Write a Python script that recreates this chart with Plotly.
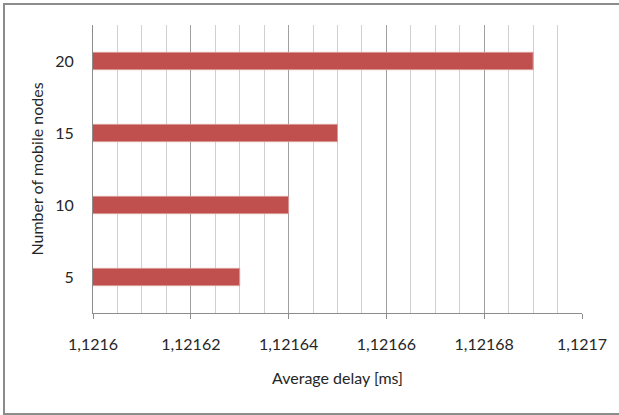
import plotly.graph_objects as go

nodes = ["5", "10", "15", "20"]
delay = [1.12163, 1.12164, 1.12165, 1.12169]
x_ticks = [1.1216, 1.12162, 1.12164, 1.12166, 1.12168, 1.1217]
x_title = "Average delay [ms]"
y_title = "Number of mobile nodes"

FONT = "Lato"

fig = go.Figure(
    go.Bar(
        x=delay,
        y=nodes,
        orientation="h",
        width=0.24,
        marker=dict(color="#C0504D", line=dict(color="#DA9A98", width=1)),
    )
)

fig.update_layout(
    width=619,
    height=415,
    margin=dict(l=93, r=37, t=25, b=102),
    paper_bgcolor="white",
    plot_bgcolor="white",
    separators=",.",
    showlegend=False,
    font=dict(family=FONT, size=16, color="#262626"),
    shapes=[
        dict(
            type="rect", xref="paper", yref="paper",
            x0=-0.182, x1=1.08, y0=-0.351, y1=1.073,
            line=dict(color="#8C8C8C", width=2), layer="below",
        )
    ],
)

fig.update_xaxes(
    range=[x_ticks[0], x_ticks[-1]],
    tickvals=x_ticks,
    tickformat=".6~g",
    showgrid=True,
    gridcolor="#A0A0A0",
    gridwidth=1,
    minor=dict(dtick=0.000005, showgrid=True, gridcolor="#D0D0D0", gridwidth=1),
    showline=True,
    linecolor="#8C8C8C",
    ticks="outside",
    ticklen=5,
    tickcolor="#8C8C8C",
    ticklabelstandoff=12,
    zeroline=False,
    title=dict(text=x_title, standoff=20, font=dict(size=16)),
)

fig.update_yaxes(
    type="category",
    categoryorder="array",
    categoryarray=nodes,
    showgrid=False,
    showline=True,
    linecolor="#8C8C8C",
    ticks="",
    ticklabelstandoff=15,
    title=dict(text=y_title, standoff=7, font=dict(size=16)),
)

fig.write_html("out.html")
